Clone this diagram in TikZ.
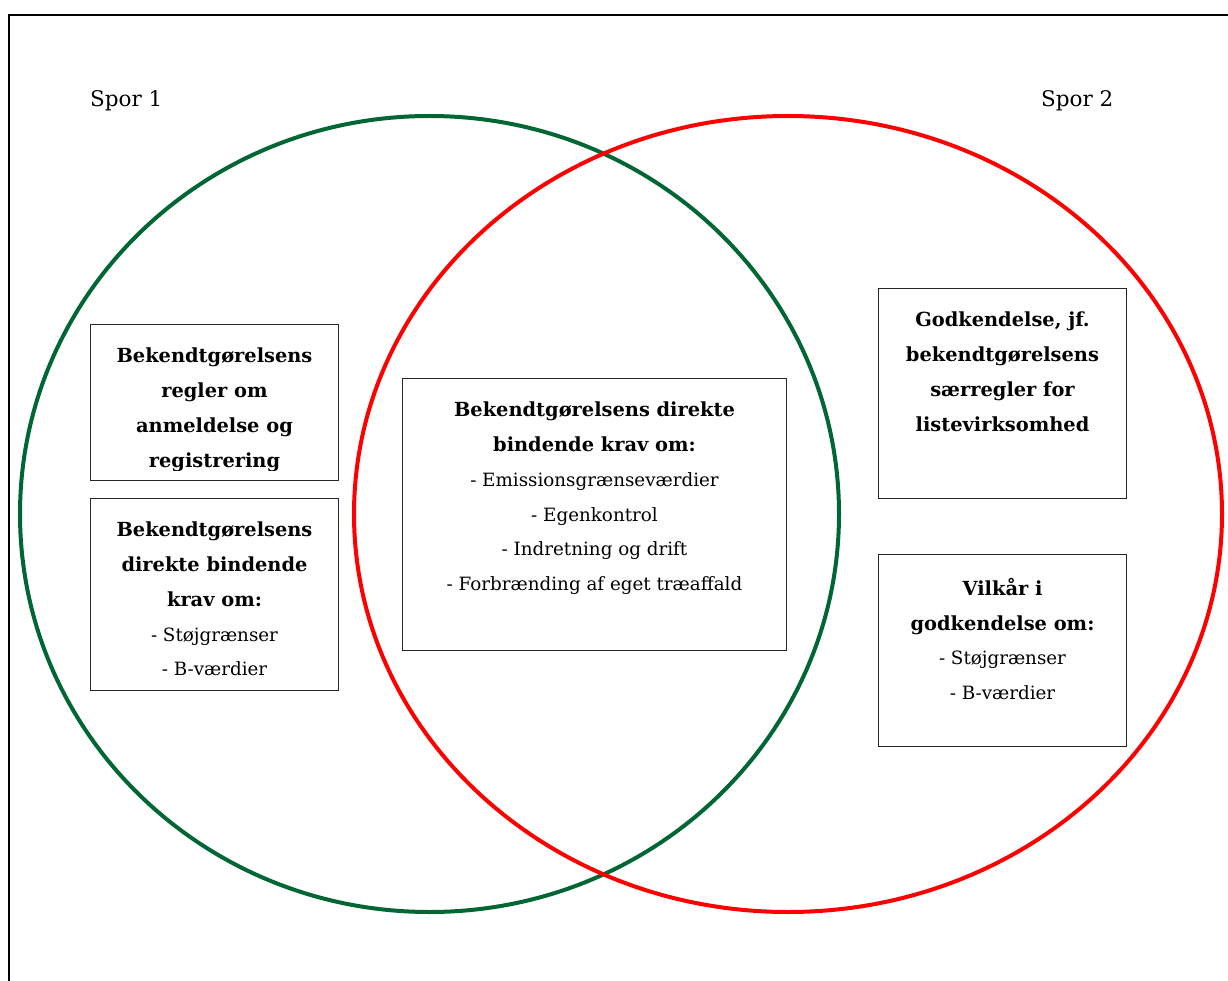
\documentclass[tikz,border=0pt]{standalone}
\usepackage{fontspec}
\setmainfont{DejaVu Serif}
\definecolor{sporgreen}{RGB}{0,102,51}
\definecolor{sporred}{RGB}{255,0,0}
\newcommand\fed[1]{{\fontsize{19.4}{34.7}\selectfont\bfseries #1}}

\begin{document}
\begin{tikzpicture}[x=1pt,y=-1pt,
  spor/.style={line width=4pt},
  felt/.style={draw=black!85,line width=1pt,fill=white,anchor=north west,inner sep=0pt},
  tekst/.style={anchor=north,align=center,inner sep=0pt,font=\fontsize{18.3}{34.7}\selectfont},
  etiket/.style={anchor=base west,inner sep=0pt,font=\fontsize{21.5}{25}\selectfont}]
  \useasboundingbox (0,0) rectangle (1228,981);
  \draw[line width=2.2pt] (1228,15) coordinate (rammeH) -- (9,15) coordinate (rammeO) -- (9,981) coordinate (rammeB);
  \draw[spor,sporgreen] (429.5,514) coordinate (spor1) ellipse [x radius=409.5,y radius=398];
  \draw[spor,sporred] (788,514) coordinate (spor2) ellipse [x radius=434,y radius=398];
  \node[etiket] (lbl1) at (90,107) {Spor 1};
  \node[etiket] (lbl2) at (1041,107) {Spor 2};
  \node[felt,minimum width=248,minimum height=156] (anm) at (90,324) {};
  \node[felt,minimum width=248,minimum height=192] (krav1) at (90,498) {};
  \node[felt,minimum width=384,minimum height=272] (krav) at (402,378) {};
  \node[felt,minimum width=248,minimum height=210] (godk) at (878,288) {};
  \node[felt,minimum width=248,minimum height=192] (vilk) at (878,554) {};
  \begin{scope}
    \clip (anm.north west) rectangle ([yshift=11pt]anm.south east);
    \node[tekst] (anmT) at ([yshift=-24pt]anm.north) {\fed{Bekendtgørelsens}\\\fed{regler om}\\\fed{anmeldelse og}\\\fed{registrering}};
  \end{scope}
  \node[tekst] (krav1T) at ([yshift=-24pt]krav1.north) {\fed{Bekendtgørelsens}\\\fed{direkte bindende}\\\fed{krav om:}\\- Støjgrænser\\- B-værdier};
  \node[tekst] (kravT) at ([yshift=-24pt]krav.north) {\fed{Bekendtgørelsens direkte}\\\fed{bindende krav om:}\\- Emissionsgrænseværdier\\- Egenkontrol\\- Indretning og drift\\- Forbrænding af eget træaffald};
  \node[tekst] (godkT) at ([yshift=-24pt]godk.north) {\fed{Godkendelse, jf.}\\\fed{bekendtgørelsens}\\\fed{særregler for}\\\fed{listevirksomhed}};
  \node[tekst] (vilkT) at ([yshift=-24pt]vilk.north) {\fed{Vilkår i}\\\fed{godkendelse om:}\\- Støjgrænser\\- B-værdier};
\end{tikzpicture}
\end{document}
